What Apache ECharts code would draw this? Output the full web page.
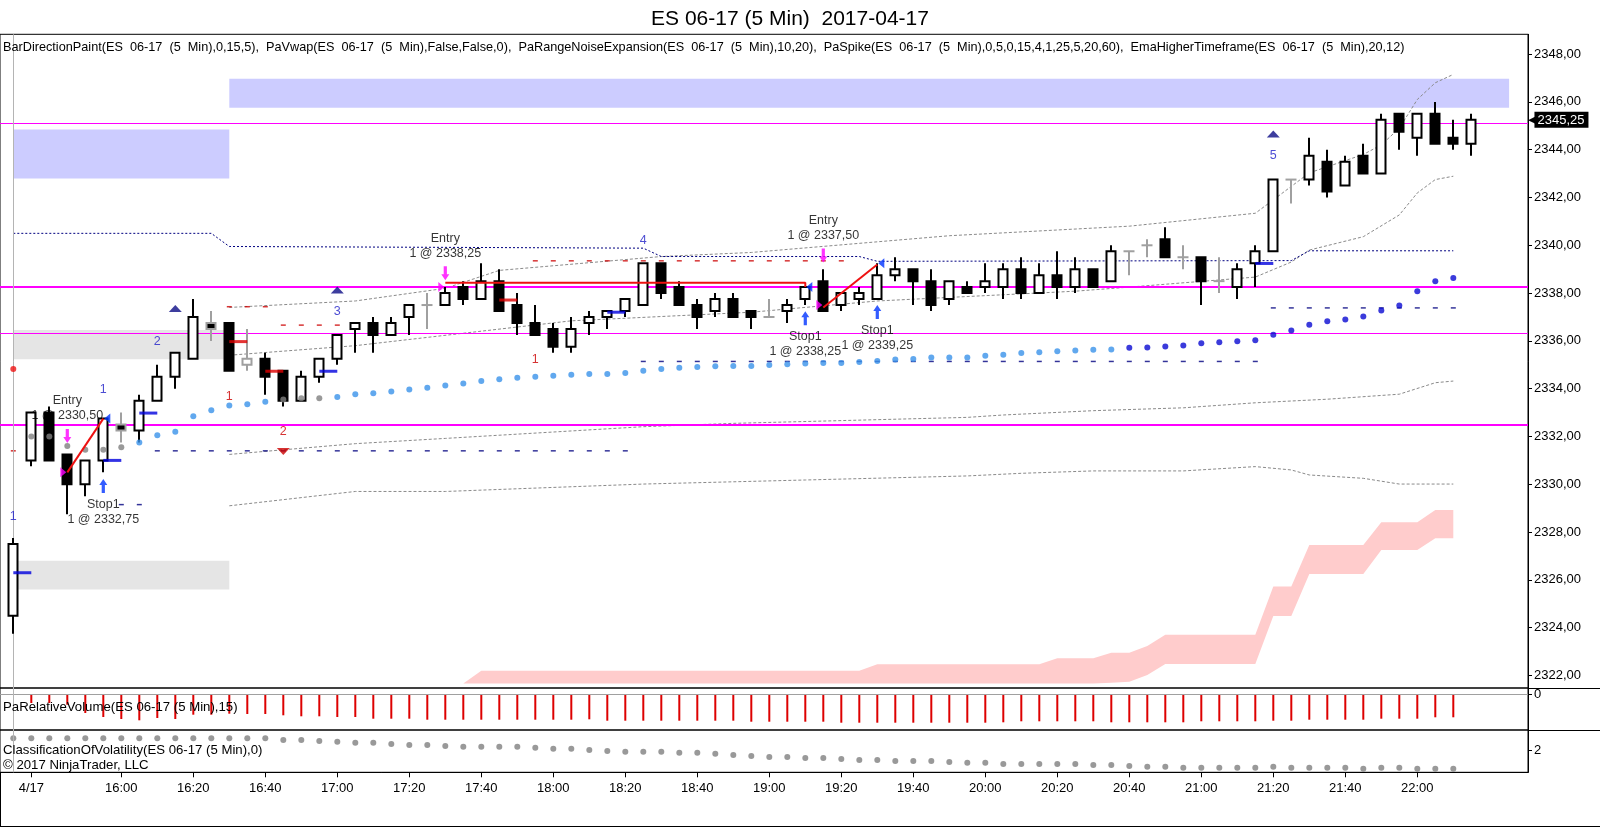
<!DOCTYPE html>
<html><head><meta charset="utf-8">
<script src="https://cdn.jsdelivr.net/npm/echarts@6/dist/echarts.min.js"></script>
<style>html,body{margin:0;padding:0;background:#fff}#c{width:1600px;height:828px}</style>
</head><body><div id="c"></div>
<script>
// ---------- DATA ----------
const opens  = [2324.5,2331,2333,2331.25,2330,2331,2332.5,2332.25,2333.5,2334.5,
 2335.25,2336.75,2336.75,2335,2335.25,2334.75,2333.5,2334.5,2335.25,2336.5,
 2336.75,2336.25,2337,2337.5,2337.5,2338.25,2337.75,2338.5,2337.5,2336.75,
 2336.5,2335.75,2336.75,2337,2337.25,2337.5,2339.25,2338.25,2337.5,2337.25,
 2337.75,2337.25,2337,2337.25,2337.75,2338.5,2337.5,2337.75,2337.75,2338.75,
 2339,2338.5,2337.75,2338.25,2338.25,2338.25,2339,2338,2338.75,2338.25,
 2339,2338.5,2339.75,2340,2340.25,2339.5,2339.5,2338.5,2338.25,2339.25,
 2339.75,2342.75,2342.75,2343.5,2342.5,2343.75,2343,2345.5,2344.5,2345.5,
 2344.5,2344.25];
const highs  = [2327.75,2333,2333.25,2331.25,2331,2332.75,2333,2333.75,2335,2335.5,
 2337.75,2337.25,2336.75,2336.5,2335.5,2334.75,2334.75,2335.25,2336.25,2336.75,
 2337,2337,2337.5,2338,2338.25,2338.5,2339.25,2339,2338,2337.5,
 2336.75,2337,2337.25,2337.25,2337.75,2339.25,2339.25,2338.5,2337.75,2338,
 2338,2337.25,2337.75,2337.75,2338.25,2339,2338,2338.25,2339.25,2339.5,
 2339,2339,2338.5,2338.5,2339.25,2339.25,2339.5,2339.25,2339.75,2339.5,
 2339,2340,2339.75,2340.25,2340.75,2340,2339.5,2339.5,2339.25,2340,
 2342.75,2342.75,2344.5,2344,2343.75,2344.25,2345.5,2345.5,2345.5,2346,
 2345.25,2345.5];
const lows   = [2323.75,2330.75,2331,2328.75,2329.5,2330.5,2331.75,2331.75,2333.5,2334,
 2335.25,2336,2334.75,2334.75,2333.75,2333.25,2333.5,2334.25,2335,2335.5,
 2335.5,2336.25,2336.25,2336.5,2337.5,2337.5,2337.75,2337.25,2336.25,2336.25,
 2335.5,2335.5,2336.25,2336.5,2337,2337.5,2337.75,2337.5,2336.5,2337,
 2337,2336.5,2337,2336.75,2337.5,2337.25,2337.25,2337.5,2337.75,2338.5,
 2337.5,2337.25,2337.5,2338,2338,2337.75,2337.75,2338,2337.75,2338,
 2338.25,2338.5,2338.75,2339.5,2339.5,2339,2337.5,2338,2337.75,2338.25,
 2339.75,2341.75,2342.5,2342,2342.5,2343,2343,2344,2343.75,2344.25,
 2344,2343.75];
const closes = [2327.5,2333,2331,2330,2331,2332.75,2332.25,2333.5,2334.5,2335.5,
 2337,2336.5,2334.75,2335.25,2334.5,2333.5,2334.5,2335.25,2336.25,2336.75,
 2336.25,2336.75,2337.5,2337.5,2338,2337.75,2338.5,2337.25,2336.75,2336.25,
 2335.75,2336.5,2337,2337.25,2337.75,2339.25,2338,2337.5,2337,2337.75,
 2337,2337,2337,2337.5,2338.25,2337.25,2338,2338,2338.75,2339,
 2338.5,2337.5,2338.5,2338,2338.5,2339,2338,2338.75,2338.25,2339,
 2338.25,2339.75,2339.75,2340,2339.5,2339.5,2338.5,2338.5,2339,2339.75,
 2342.75,2342.75,2343.75,2342.25,2343.5,2343,2345.25,2344.75,2345.5,2344.25,
 2344.25,2345.25];
const grayBars = [6,11,13,23,42,62,63,65,67,71];

// x-axis tick labels
const xTickIdx    = [1,6,10,14,18,22,26,30,34,38,42,46,50,54,58,62,66,70,74,78];
const xTickLabels = ['4/17','16:00','16:20','16:40','17:00','17:20','17:40','18:00','18:20','18:40',
                     '19:00','19:20','19:40','20:00','20:20','20:40','21:00','21:20','21:40','22:00'];
const yTickValues = [2322,2324,2326,2328,2330,2332,2334,2336,2338,2340,2342,2344,2346,2348];

// trailing dots (idx 1..80)
const trailDots = [2332.0,2332.0,2331.6,2331.45,2331.45,2331.55,2331.75,2332.05,2332.2,2332.85,
 2333.1,2333.3,2333.35,2333.45,2333.55,2333.6,2333.6,2333.65,2333.77,2333.81,
 2333.88,2333.97,2334.04,2334.13,2334.22,2334.32,2334.4,2334.46,2334.5,2334.54,
 2334.58,2334.62,2334.62,2334.66,2334.75,2334.82,2334.88,2334.91,2334.94,2334.95,
 2334.95,2334.99,2335.02,2335.05,2335.08,2335.08,2335.12,2335.16,2335.22,2335.24,
 2335.3,2335.3,2335.3,2335.38,2335.42,2335.49,2335.53,2335.57,2335.6,2335.63,
 2335.64,2335.71,2335.72,2335.77,2335.81,2335.9,2335.94,2335.98,2336.03,2336.26,
 2336.43,2336.68,2336.82,2336.9,2337.02,2337.27,2337.48,2338.08,2338.5,2338.63];
const trailGrayIdx = [1,2,3,4,5,6,15,16,17];
const trailDarkFrom = 62;

// gray dashed bands (vertex points [bar, price])
const bandTop1 = [[12,2337.4],[19,2337.67],[24,2338.2],[27,2338.95],[36,2339.53],[41,2339.7],[52,2340.4],[62,2340.8],[69,2341.34],[70,2341.9],[72,2343.03],[75,2343.8],[76,2344.2],[77,2344.9],[78,2346.1],[79,2346.8],[80,2347.15]];
const bandTop2 = [[12,2335.4],[19,2335.8],[31,2336.84],[41,2337.2],[48,2337.67],[59,2338.08],[62,2338.25],[69,2338.67],[71,2339.3],[72,2339.8],[75,2340.36],[77,2341.27],[78,2342.19],[79,2342.75],[80,2342.89]];
const bandLow1 = [[12,2331.25],[19,2331.7],[24,2331.92],[35,2332.41],[40,2332.55],[53,2332.8],[55,2332.9],[60,2333.08],[65,2333.2],[69,2333.41],[73,2333.56],[77,2333.77],[79,2334.25],[80,2334.32]];
const bandLow2 = [[12,2329.1],[19,2329.7],[24,2329.7],[35,2330.01],[44,2330.18],[53,2330.35],[56,2330.46],[60,2330.56],[65,2330.56],[69,2330.74],[71,2330.6],[72,2330.39],[75,2330.25],[77,2330.01],[80,2330.01]];
const vwapLine = [[0,2340.5],[11,2340.5],[12,2339.95],[35,2339.88],[36,2339.53],[47,2339.53],[48,2339.33],[71,2339.36],[72,2339.77],[80,2339.77]];

// pink higher-timeframe band
const pinkIdx   = [25,26,47,48,57,58,60,61,62,63,64,69,70,71,72,75,76,78,79,80];
const pinkUpper = [2321.67,2322.2,2322.2,2322.47,2322.47,2322.72,2322.72,2322.95,2322.95,2323.23,2323.7,2323.7,2325.72,2325.72,2327.46,2327.46,2328.41,2328.41,2328.92,2328.92];
const pinkLower = [2321.67,2321.67,2321.67,2321.67,2321.67,2321.67,2321.67,2321.7,2321.74,2322.02,2322.48,2322.48,2324.49,2324.49,2326.25,2326.25,2327.25,2327.25,2327.74,2327.74];

// zones
const zoneFrom  = [0,12,0,0];
const zoneTo    = [12,83.1,12,12];
const zoneLo    = [2342.79,2345.75,2335.23,2325.6];
const zoneHi    = [2344.84,2346.97,2336.46,2326.8];
const zoneColor = ['#ccccff','#ccccff','#e5e5e5','#e5e5e5'];

// horizontal levels
const levelPrice = [2345.1,2338.25,2336.32,2332.5];
const levelWidth = [1,2,1,2];
const lastPrice = 2345.25;

// per-bar dash levels
const dashFrom  = [0,6,8,12,15,29,35,70];
const dashTo    = [0,7,34,14,18,46,69,80];
const dashPrice = [2331.4,2329.15,2331.4,2337.43,2336.66,2339.35,2335.14,2337.38];
const dashColor = ['#cc0000','#000080','#000080','#cc0000','#cc0000','#cc0000','#000080','#000080'];

// thick ticks
const tickIdx   = [0,5,7,17,33,69,12,14,27];
const tickPrice = [2326.3,2331.0,2332.98,2334.73,2337.2,2339.24,2335.97,2334.73,2337.71];
const tickColor = ['#0000dd','#0000dd','#0000dd','#0000dd','#0000dd','#0000dd','#dd0000','#dd0000','#dd0000'];

// swing counts
const swingIdx   = [0,5,8,18,35,70,12,15,29];
const swingPrice = [2328.64,2333.95,2335.97,2337.22,2340.2,2343.74,2333.67,2332.2,2335.2];
const swingText  = ['1','1','2','3','4','5','1','2','1'];
const swingColor = ['#2020c8','#2020c8','#2020c8','#2020c8','#2020c8','#2020c8','#cc0000','#cc0000','#cc0000'];
const triIdx   = [9,18,70,15];
const triPrice = [2337.36,2338.13,2344.66,2331.37];
const triUp    = [true,true,true,false];
const redDot   = [[0,2334.82]];

// trades
const entryIdx = [3,24,45];
const entryPrice = [2330.5,2338.25,2337.5];
const entryArrowPrice = [2332.02,2338.83,2339.57];
const exitIdx = [5,44,48];
const exitPrice = [2332.75,2338.25,2339.25];
const exitArrowPrice = [2329.93,2336.95,2337.21];
const tradeLines = [[[3,2330.5],[5,2332.75]],[[24,2338.43],[44,2338.43],[44,2338.25]],[[45,2337.4],[48,2339.2]]];
const tradeTextIdx = [3,24,45,5,44,48];
const tradeTextPrice = [2333.18,2339.96,2340.73,2328.84,2335.86,2336.11];
const tradeText = ['Entry\n1 @ 2330,50','Entry\n1 @ 2338,25','Entry\n1 @ 2337,50','Stop1\n1 @ 2332,75','Stop1\n1 @ 2338,25','Stop1\n1 @ 2339,25'];

// relative volume (idx 1..80)
const relVolume = [-0.9,-0.9,-1.07,-1.9,-2.3,-2.5,-2.63,-2.4,-2.5,-2.07,
 -2.07,-1.97,-2.0,-2.0,-2.13,-2.23,-2.23,-2.3,-2.3,-2.47,
 -2.47,-2.47,-2.57,-2.57,-2.57,-2.57,-2.57,-2.57,-2.57,-2.57,
 -2.57,-2.53,-2.67,-2.67,-2.67,-2.67,-2.67,-2.67,-2.67,-2.67,
 -2.77,-2.77,-2.77,-2.77,-2.77,-2.87,-2.87,-2.87,-2.87,-2.87,
 -2.87,-2.87,-2.87,-2.87,-2.83,-2.73,-2.73,-2.73,-2.73,-2.73,
 -2.83,-2.83,-2.83,-2.83,-2.83,-2.73,-2.73,-2.73,-2.73,-2.67,
 -2.67,-2.57,-2.57,-2.57,-2.57,-2.47,-2.47,-2.47,-2.33,-2.33];
// volatility classification (idx 0..80)
const volClass = [2.78,2.78,2.78,2.78,2.78,2.78,2.78,2.78,2.78,2.78,
 2.78,2.78,2.78,2.78,2.78,2.67,2.67,2.6,2.55,2.49,
 2.49,2.4,2.33,2.33,2.27,2.22,2.22,2.22,2.22,2.15,
 2.09,2.09,2.0,1.93,1.89,1.89,1.89,1.82,1.82,1.75,
 1.67,1.6,1.53,1.53,1.47,1.47,1.4,1.33,1.33,1.27,
 1.27,1.27,1.2,1.15,1.15,1.07,1.07,1.07,1.07,1.07,
 1.0,1.0,0.93,0.89,0.89,0.82,0.82,0.82,0.82,0.82,
 0.89,0.82,0.82,0.82,0.82,0.75,0.82,0.82,0.75,0.75,0.75];

// ---------- CHART ----------
const FF = '"Liberation Sans", Arial, Helvetica, sans-serif';
const fmt = v => v.toFixed(2).replace('.', ',');
const X_MIN = -0.739, X_MAX = 84.15;
const chart = echarts.init(document.getElementById('c'), null, {renderer:'canvas', width:1600, height:828});

const candleData = opens.map((o,i) => [i, o, closes[i], lows[i], highs[i], grayBars.includes(i) ? 1 : 0]);
const trailData = trailDots.map((v,k) => {
  const i = k + 1;
  const col = trailGrayIdx.includes(i) ? '#808080' : (i >= trailDarkFrom ? '#0a0ad2' : '#3a92ea');
  return {value:[i, v], itemStyle:{color: col}};
});
const dashData = [];
dashFrom.forEach((f,k) => { for (let i=f;i<=dashTo[k];i++) dashData.push({value:[i, dashPrice[k]], itemStyle:{color:dashColor[k]}}); });

const ARROW_DOWN = 'path://M3,0 L7,0 L7,8 L10,8 L5,14 L0,8 L3,8 Z';
const ARROW_UP   = 'path://M5,0 L10,6 L7,6 L7,14 L3,14 L3,6 L0,6 Z';
const TRI_RIGHT  = 'path://M0,0 L8,5 L0,10 Z';
const TRI_LEFT   = 'path://M8,0 L0,5 L8,10 Z';
const TRI_UP     = 'path://M5,0 L10,6 L0,6 Z';
const TRI_DOWN   = 'path://M0,0 L10,0 L5,6 Z';

const grayLine = (data) => ({type:'line', xAxisIndex:0, yAxisIndex:0, data, showSymbol:false, silent:true, z:2,
  lineStyle:{color:'#8a8a8a', width:1, type:[3,2]}});
const textPoint = (x, y, text, color, extra) => ({value:[x, y],
  label:Object.assign({show:true, position:'inside', formatter:text, color, fontSize:12.5, fontFamily:FF}, extra || {})});

const option = {
  animation:false,
  backgroundColor:'#fff',
  grid:[
    {left:0, right:72, top:34.3, height:653.7, show:true, borderColor:'#000', borderWidth:1},
    {left:0, right:72, top:688, height:42, show:true, borderColor:'#000', borderWidth:1},
    {left:0, right:72, top:730, height:42.3, show:true, borderColor:'#000', borderWidth:1}
  ],
  xAxis:[0,1,2].map(g => ({
    type:'value', gridIndex:g, min:X_MIN, max:X_MAX,
    axisLine:{show: g===2, onZero:false, lineStyle:{color:'#000'}},
    splitLine:{show:false},
    axisTick: g===2 ? {show:true, customValues:xTickIdx, length:5, lineStyle:{color:'#000'}} : {show:false},
    axisLabel: g===2 ? {show:true, customValues:xTickIdx, margin:10, color:'#000', fontSize:13, fontFamily:FF,
      formatter: v => { const k = xTickIdx.indexOf(Math.round(v)); return k>=0 ? xTickLabels[k] : ''; }} : {show:false}
  })),
  yAxis:[
    {type:'value', gridIndex:0, position:'right', min:2321.477, max:2348.828,
     axisLine:{show:true, onZero:false, lineStyle:{color:'#000'}}, splitLine:{show:false},
     axisTick:{show:true, customValues:yTickValues, length:4, lineStyle:{color:'#000'}},
     axisLabel:{show:true, customValues:yTickValues, margin:6, color:'#000', fontSize:13, fontFamily:FF, formatter: v => fmt(v)}},
    {type:'value', gridIndex:1, position:'right', min:-3.6, max:0.6,
     axisLine:{show:true, onZero:false, lineStyle:{color:'#000'}}, splitLine:{show:false},
     axisTick:{show:true, customValues:[0], length:4, lineStyle:{color:'#000'}},
     axisLabel:{show:true, customValues:[0], margin:6, color:'#000', fontSize:13, fontFamily:FF, formatter: () => '0'}},
    {type:'value', gridIndex:2, position:'right', min:0.513, max:3.333,
     axisLine:{show:true, onZero:false, lineStyle:{color:'#000'}}, splitLine:{show:false},
     axisTick:{show:true, customValues:[2], length:4, lineStyle:{color:'#000'}},
     axisLabel:{show:true, customValues:[2], margin:6, color:'#000', fontSize:13, fontFamily:FF, formatter: () => '2'}}
  ],
  graphic:[
    {type:'text', z:100, x:790, y:19.5, style:{text:'ES 06-17 (5 Min)  2017-04-17', fontSize:21, fontFamily:FF, fill:'#000', align:'center', verticalAlign:'middle'}},
    {type:'text', z:100, x:3, y:47.7, style:{text:'BarDirectionPaint(ES  06-17  (5  Min),0,15,5),  PaVwap(ES  06-17  (5  Min),False,False,0),  PaRangeNoiseExpansion(ES  06-17  (5  Min),10,20),  PaSpike(ES  06-17  (5  Min),0,5,0,15,4,1,25,5,20,60),  EmaHigherTimeframe(ES  06-17  (5  Min),20,12)', fontSize:12.7, fontFamily:FF, fill:'#000', align:'left', verticalAlign:'middle'}},
    {type:'text', z:100, x:3, y:707, style:{text:'PaRelativeVolume(ES 06-17 (5 Min),15)', fontSize:13.2, fontFamily:FF, fill:'#000', align:'left', verticalAlign:'middle'}},
    {type:'text', z:100, x:3, y:750, style:{text:'ClassificationOfVolatility(ES 06-17 (5 Min),0)', fontSize:13.2, fontFamily:FF, fill:'#000', align:'left', verticalAlign:'middle'}},
    {type:'text', z:100, x:3, y:765, style:{text:'\u00a9 2017 NinjaTrader, LLC', fontSize:13.2, fontFamily:FF, fill:'#000', align:'left', verticalAlign:'middle'}},
    {type:'line', z:100, shape:{x1:1528, y1:688.5, x2:1600, y2:688.5}, style:{stroke:'#000', lineWidth:1}},
    {type:'line', z:100, shape:{x1:1528, y1:730.5, x2:1600, y2:730.5}, style:{stroke:'#000', lineWidth:1}},
    {type:'line', z:100, shape:{x1:0, y1:826.5, x2:1600, y2:826.5}, style:{stroke:'#000', lineWidth:1}},
    {type:'line', z:100, shape:{x1:0.5, y1:772, x2:0.5, y2:827}, style:{stroke:'#000', lineWidth:1}}
  ],
  series:[
    // zones
    {type:'custom', xAxisIndex:0, yAxisIndex:0, z:1, silent:true,
     data: zoneFrom.map((f,k) => [f, zoneTo[k], zoneLo[k], zoneHi[k], k]),
     encode:{x:[0,1], y:[2,3]},
     renderItem:(params, api) => {
       const p1 = api.coord([api.value(0), api.value(3)]);
       const p2 = api.coord([api.value(1), api.value(2)]);
       return {type:'rect', shape:{x:p1[0], y:p1[1], width:p2[0]-p1[0], height:p2[1]-p1[1]}, style:{fill: zoneColor[api.value(4)]}};
     }},
    // pink band
    {type:'custom', xAxisIndex:0, yAxisIndex:0, z:1, silent:true,
     data:[[pinkIdx[0], pinkLower[0]]],
     renderItem:(params, api) => {
       const pts = [];
       pinkIdx.forEach((x,k) => pts.push(api.coord([x, pinkUpper[k]])));
       for (let k=pinkIdx.length-1;k>=0;k--) pts.push(api.coord([pinkIdx[k], pinkLower[k]]));
       return {type:'polygon', shape:{points:pts}, style:{fill:'#ffcccc'}};
     }},
    grayLine(bandTop1), grayLine(bandTop2), grayLine(bandLow1), grayLine(bandLow2),
    // vwap dotted + levels
    {type:'line', xAxisIndex:0, yAxisIndex:0, data:vwapLine, showSymbol:false, silent:true, z:2,
     lineStyle:{color:'#000080', width:1, type:[2,2]},
     markLine:{silent:true, symbol:'none', animation:false,
       data:[
         ...levelPrice.map((p,k) => ({yAxis:p, label:{show:false}, lineStyle:{color:'#ff00ff', width:levelWidth[k], type:'solid'}})),
         {xAxis:0, label:{show:false}, lineStyle:{color:'#b4b4b4', width:1, type:'solid'}},
         {yAxis:lastPrice, lineStyle:{color:'rgba(0,0,0,0)', width:1}, label:{show:true, position:'end', distance:0,
           formatter:'{a|\u25C0}{b|' + fmt(lastPrice) + '}',
           rich:{a:{color:'#000', fontSize:11, fontFamily:'DejaVu Sans', padding:[0,-2,0,0]},
                 b:{backgroundColor:'#000', color:'#fff', fontSize:13, fontFamily:FF, padding:[2,4,1,3]}}}}
       ]}},
    // per-bar dashes
    {type:'scatter', xAxisIndex:0, yAxisIndex:0, z:3, silent:true, data:dashData, symbol:'rect', symbolSize:[5,1.5]},
    // candles
    {type:'custom', xAxisIndex:0, yAxisIndex:0, z:5, silent:true, data:candleData,
     encode:{x:0, y:[3,4]},
     renderItem:(params, api) => {
       const x = api.value(0), o = api.value(1), c = api.value(2), l = api.value(3), h = api.value(4), g = api.value(5);
       const pH = api.coord([x,h]), pL = api.coord([x,l]), pO = api.coord([x,o]), pC = api.coord([x,c]);
       const bw = Math.round(api.size([1,0])[0] * 0.5);
       const stroke = g ? '#a0a0a0' : '#000';
       const cx = Math.round(pH[0]);
       const ch = [{type:'line', shape:{x1:cx, y1:pH[1], x2:cx, y2:pL[1]}, style:{stroke, lineWidth:2}}];
       if (Math.abs(pO[1]-pC[1]) < 1) {
         ch.push({type:'line', shape:{x1:cx-bw/2-1, y1:pO[1], x2:cx+bw/2+1, y2:pO[1]}, style:{stroke, lineWidth:2}});
       } else {
         const top = Math.min(pO[1],pC[1]), bot = Math.max(pO[1],pC[1]);
         ch.push({type:'rect', shape:{x:cx-bw/2, y:top, width:bw, height:bot-top}, style:{fill: c>o ? '#fff' : '#000', stroke, lineWidth:2}});
       }
       return {type:'group', children:ch};
     }},
    // thick ticks
    {type:'scatter', xAxisIndex:0, yAxisIndex:0, z:6, silent:true, symbol:'rect', symbolSize:[18,3], symbolOffset:[9,0],
     data: tickIdx.map((i,k) => ({value:[i, tickPrice[k]], itemStyle:{color:tickColor[k]}}))},
    // trailing dots
    {type:'scatter', xAxisIndex:0, yAxisIndex:0, z:6, silent:true, symbolSize:6, data:trailData},
    {type:'scatter', xAxisIndex:0, yAxisIndex:0, z:6, silent:true, symbolSize:6, data:redDot, itemStyle:{color:'#ee1111'}},
    // swing triangles + counts
    {type:'scatter', xAxisIndex:0, yAxisIndex:0, z:6, silent:true, symbolSize:[13,7],
     data: triIdx.map((i,k) => ({value:[i, triPrice[k]], symbol: triUp[k] ? TRI_UP : TRI_DOWN, itemStyle:{color: triUp[k] ? '#0c0c86' : '#cc0000'}}))},
    {type:'scatter', xAxisIndex:0, yAxisIndex:0, z:9, silent:true, symbol:'circle', symbolSize:1, itemStyle:{color:'rgba(0,0,0,0)'},
     data: swingIdx.map((i,k) => textPoint(i, swingPrice[k], swingText[k], swingColor[k]))},
    // trade lines
    ...tradeLines.map(seg => ({type:'line', xAxisIndex:0, yAxisIndex:0, z:7, silent:true, data:seg, showSymbol:false, lineStyle:{color:'#ee1111', width:2}})),
    // entry/exit markers
    {type:'scatter', xAxisIndex:0, yAxisIndex:0, z:8, silent:true, symbol:ARROW_DOWN, symbolSize:[8,14], itemStyle:{color:'#ff00ff'},
     data: entryIdx.map((i,k) => [i, entryArrowPrice[k]])},
    {type:'scatter', xAxisIndex:0, yAxisIndex:0, z:8, silent:true, symbol:TRI_RIGHT, symbolSize:[6,10], symbolOffset:[-4,0], itemStyle:{color:'#ff00ff'},
     data: entryIdx.map((i,k) => [i, entryPrice[k]])},
    {type:'scatter', xAxisIndex:0, yAxisIndex:0, z:8, silent:true, symbol:ARROW_UP, symbolSize:[8,14], itemStyle:{color:'#0033ff'},
     data: exitIdx.map((i,k) => [i, exitArrowPrice[k]])},
    {type:'scatter', xAxisIndex:0, yAxisIndex:0, z:8, silent:true, symbol:TRI_LEFT, symbolSize:[6,10], symbolOffset:[4,0], itemStyle:{color:'#0033ff'},
     data: exitIdx.map((i,k) => [i, exitPrice[k]])},
    // trade texts
    {type:'scatter', xAxisIndex:0, yAxisIndex:0, z:9, silent:true, symbol:'circle', symbolSize:1, itemStyle:{color:'rgba(0,0,0,0)'},
     data: tradeTextIdx.map((i,k) => textPoint(i, tradeTextPrice[k], tradeText[k], '#000', {lineHeight:15, align:'center'}))},
    // relative volume
    {type:'bar', xAxisIndex:1, yAxisIndex:1, barWidth:2, silent:true, z:3, itemStyle:{color:'#dd0000'},
     data: relVolume.map((v,k) => [k+1, v]),
     markLine:{silent:true, symbol:'none', label:{show:false}, data:[
       {yAxis:0, lineStyle:{color:'#a0a0a0', width:1, type:'solid'}},
       {xAxis:0, lineStyle:{color:'#b4b4b4', width:1, type:'solid'}}]}},
    // volatility
    {type:'scatter', xAxisIndex:2, yAxisIndex:2, symbolSize:6, silent:true, z:3, itemStyle:{color:'#808080'},
     data: volClass.map((v,i) => [i, v]),
     markLine:{silent:true, symbol:'none', label:{show:false}, data:[{xAxis:0, lineStyle:{color:'#b4b4b4', width:1, type:'solid'}}]}}
  ]
};
chart.setOption(option);
</script></body></html>
